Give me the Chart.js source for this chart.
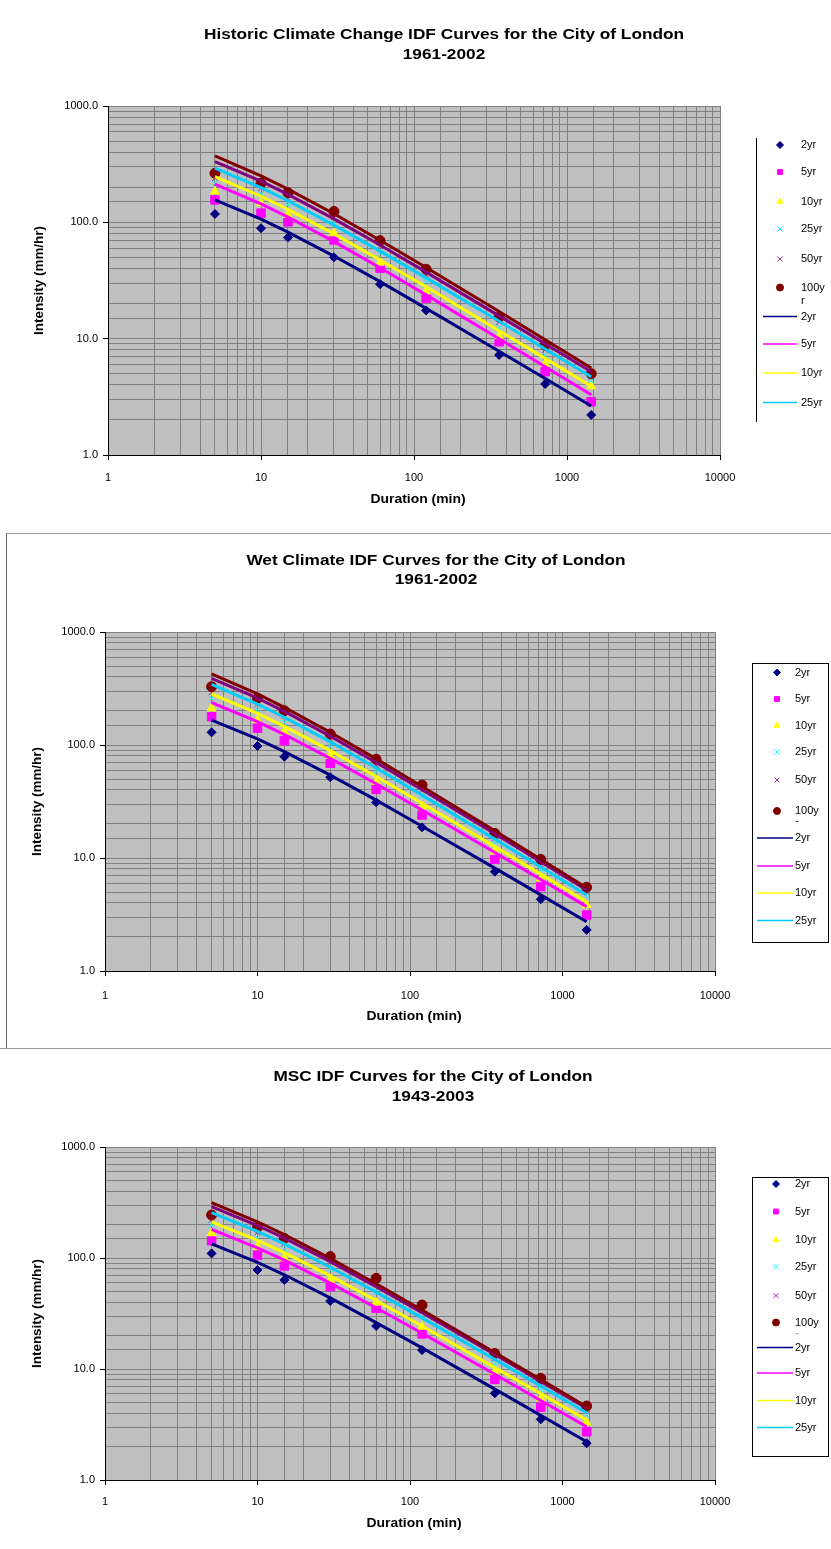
<!DOCTYPE html>
<html>
<head>
<meta charset="utf-8">
<title>IDF Curves - City of London</title>
<script src="https://cdn.jsdelivr.net/npm/chart.js@4/dist/chart.umd.min.js"></script>
<style>
  body { margin: 0; background: #fff; width: 831px; height: 1549px; position: relative; overflow: hidden; }
  .panel { position: absolute; left: 0; width: 831px; }
  .frame-wet { position: absolute; left: 6px; top: 533px; width: 830px; height: 515px; border-left: 1px solid #666; border-top: 1px solid #999; }
  .frame-msc { position: absolute; left: 0; top: 1048px; width: 831px; border-top: 1px solid #999; }
</style>
</head>
<body>
<div class="frame-wet"></div>
<div class="frame-msc"></div>
<div class="panel" style="top:0"><canvas id="historic" width="831" height="520"></canvas></div>
<div class="panel" style="top:533px"><canvas id="wet" width="831" height="515"></canvas></div>
<div class="panel" style="top:1048px"><canvas id="msc" width="831" height="501"></canvas></div>
<script>
'use strict';

// durations (min) and return periods
const durations = [5, 10, 15, 30, 60, 120, 360, 720, 1440];
const periods = ['2yr', '5yr', '10yr', '25yr', '50yr', '100yr'];
const decadesX = [1, 10, 100, 1000, 10000];
const decadesY = [1, 10, 100, 1000];

// Historic climate change 1961-2002: observed intensities (mm/hr), one row per return period
const historicPoints = [
  [118, 89, 74, 50, 29.4, 17.5, 7.24, 4.08, 2.21],
  [156, 120, 101, 70.6, 40.3, 22.2, 9.4, 5.2, 2.87],
  [184, 146, 116, 80.6, 45, 25.4, 10.5, 6.1, 3.9],
  [216, 175, 142, 98.1, 54.9, 31.1, 12.4, 7.2, 4.34],
  [240, 196, 161, 111, 62.3, 35.3, 13.9, 8.0, 4.67],
  [264, 217, 180, 124, 69.6, 39.5, 15.3, 8.8, 5.0]
];
// fitted IDF curves
const historicFits = [
  [156, 106.5, 82.5, 51.3, 30.9, 18.2, 7.8, 4.54, 2.64],
  [213, 144.3, 111.2, 68.3, 40.7, 23.8, 9.99, 5.74, 3.3],
  [247, 167.6, 129.3, 79.6, 47.5, 27.9, 11.7, 6.77, 3.9],
  [292, 198.5, 153.3, 94.7, 56.6, 33.3, 14.1, 8.14, 4.7],
  [333, 225.7, 173.9, 107.1, 63.8, 37.3, 15.7, 9.04, 5.2],
  [372, 251.2, 193.2, 118.4, 70.2, 40.9, 17.1, 9.79, 5.6]
];

// Wet climate 1961-2002
const wetPoints = [
  [129.5, 98, 78.8, 51.8, 31.1, 18.7, 7.57, 4.31, 2.31],
  [178, 141, 109, 68.9, 40.5, 24.0, 9.73, 5.57, 3.13],
  [211, 166, 131, 80, 47.3, 28.5, 11.4, 6.6, 3.84],
  [258, 204, 159, 98.1, 58.3, 34.9, 13.5, 7.86, 4.51],
  [293, 231, 180, 112, 66.5, 39.6, 15.0, 8.8, 5.01],
  [328, 259, 201, 125, 74.7, 44.3, 16.5, 9.73, 5.5]
];
const wetFits = [
  [166, 113.1, 87.4, 54.1, 32.5, 19.1, 8.13, 4.72, 2.73],
  [237, 160.7, 123.8, 76.2, 45.4, 26.6, 11.2, 6.45, 3.71],
  [283, 190.5, 146.1, 89.2, 52.6, 30.5, 12.6, 7.2, 4.1],
  [344, 230.3, 176.1, 106.7, 62.6, 36.0, 14.7, 8.34, 4.71],
  [389, 259.9, 198.4, 119.9, 70.1, 40.2, 16.4, 9.25, 5.21],
  [425, 282.9, 215.4, 129.6, 75.3, 43.0, 17.4, 9.74, 5.46]
];

// MSC 1943-2003
const mscPoints = [
  [110, 78, 63.4, 41, 24.4, 14.8, 6.04, 3.52, 2.14],
  [143, 106, 84.7, 55.2, 35.2, 20.7, 8.07, 4.52, 2.72],
  [167, 126, 99.4, 63.4, 39.6, 24.0, 9.46, 5.45, 3.28],
  [198, 151, 120, 79.4, 50.1, 29.5, 11.2, 6.57, 3.83],
  [221, 170, 135, 91.2, 57.9, 33.6, 12.5, 7.41, 4.23],
  [244, 189, 150, 103, 65.6, 37.7, 13.8, 8.24, 4.64]
];
const mscFits = [
  [134, 91.3, 70.6, 43.7, 26.2, 15.5, 6.58, 3.82, 2.21],
  [181, 123.5, 95.5, 59.3, 35.6, 21.0, 8.96, 5.2, 3.02],
  [212, 144.3, 111.6, 69.0, 41.4, 24.4, 10.3, 6.0, 3.47],
  [256, 173.7, 134.0, 82.5, 49.2, 28.9, 12.2, 7.02, 4.04],
  [290, 196.2, 151.0, 92.7, 55.1, 32.2, 13.5, 7.73, 4.43],
  [315, 212.1, 162.7, 99.3, 58.6, 34.0, 14.1, 8.02, 4.57]
];

// series styling
const markerStyles = ['rectRot', 'rect', 'triangle', 'crossRot', 'crossRot', 'circle'];
const markerSizes = [4.5, 6, 5, 4, 4, 5];
const markerColors = ['#000080', '#FF00FF', '#FFFF00', '#00FFFF', '#993399', '#800000'];
const lineColors = ['#000080', '#FF00FF', '#FFFF00', '#00CCFF', '#800080', '#800000'];

const FONT = '"Liberation Sans", Arial, sans-serif';

function buildDatasets(points, fits) {
  let sets = [];
  for (let i = 0; i < periods.length; i++) {
    sets.push({
      label: periods[i],
      data: durations.map((d, k) => ({ x: d, y: points[i][k] })),
      showLine: false,
      pointStyle: markerStyles[i],
      pointRadius: markerSizes[i],
      pointBackgroundColor: markerColors[i],
      pointBorderColor: markerColors[i],
      pointBorderWidth: 1,
      order: 30 - i
    });
  }
  for (let i = 0; i < periods.length; i++) {
    sets.push({
      label: periods[i],
      data: durations.map((d, k) => ({ x: d, y: fits[i][k] })),
      showLine: true,
      borderColor: lineColors[i],
      backgroundColor: lineColors[i],
      borderWidth: 3,
      pointRadius: 0,
      order: 10 - i
    });
  }
  return sets;
}

// grey plot area
const plotBackground = {
  id: 'plotBackground',
  beforeDraw(chart) {
    const { ctx, chartArea: a } = chart;
    ctx.save();
    ctx.fillStyle = '#C0C0C0';
    ctx.fillRect(a.left, a.top, a.right - a.left, a.bottom - a.top);
    ctx.restore();
  }
};

// text drawn a little wider than the font's natural width
function wideText(ctx, text, x, y, sx, angle) {
  ctx.save();
  ctx.translate(x, y);
  if (angle) ctx.rotate(angle);
  ctx.scale(sx, 1);
  ctx.fillText(text, 0, 0);
  ctx.restore();
}

// two-line heading and the axis titles
const captions = {
  id: 'captions',
  afterDraw(chart, args, opts) {
    const { ctx, chartArea: a } = chart;
    ctx.save();
    ctx.fillStyle = '#000';
    ctx.textAlign = 'center';
    ctx.textBaseline = 'middle';

    ctx.font = 'bold 15px ' + FONT;
    opts.lines.forEach((t, i) => wideText(ctx, t, opts.x, opts.rows[i], 1.15, 0));

    ctx.font = 'bold 12px ' + FONT;
    wideText(ctx, 'Duration (min)', (a.left + a.right) / 2 + 4, opts.xTitleY, 1.16, 0);
    wideText(ctx, 'Intensity (mm/hr)', opts.yTitleX, (a.top + a.bottom) / 2, 1.12, -Math.PI / 2);
    ctx.restore();
  }
};

// legend on the right, first ten series only (the box is cut off)
const sideLegend = {
  id: 'sideLegend',
  afterDraw(chart, args, opts) {
    const ctx = chart.ctx;
    ctx.save();
    ctx.strokeStyle = '#000';
    ctx.lineWidth = 1;
    if (opts.leftOnly) {
      ctx.beginPath();
      ctx.moveTo(opts.left + 0.5, opts.top);
      ctx.lineTo(opts.left + 0.5, opts.bottom);
      ctx.stroke();
    } else {
      ctx.strokeRect(opts.left + 0.5, opts.top + 0.5, opts.right - opts.left, opts.bottom - opts.top);
    }
    ctx.font = '11px ' + FONT;
    ctx.textBaseline = 'middle';
    chart.data.datasets.slice(0, 10).forEach((ds, i) => {
      const y = opts.rows[i];
      if (ds.showLine) {
        ctx.strokeStyle = ds.borderColor;
        ctx.lineWidth = 1.5;
        ctx.beginPath();
        ctx.moveTo(opts.lineFrom, y);
        ctx.lineTo(opts.lineTo, y);
        ctx.stroke();
      } else {
        ctx.fillStyle = ds.pointBackgroundColor;
        ctx.strokeStyle = ds.pointBorderColor;
        ctx.lineWidth = 1;
        Chart.helpers.drawPoint(ctx, { pointStyle: ds.pointStyle, radius: 3.5, rotation: 0, borderWidth: 1 }, opts.markerX, y);
      }
      ctx.fillStyle = '#000';
      if (ds.label === '100yr') {
        ctx.fillText('100y', opts.textX, y);
        ctx.save();
        ctx.beginPath();
        ctx.rect(opts.textX - 2, y + 7, 20, opts.wrapShow);
        ctx.clip();
        ctx.fillText('r', opts.textX, y + 13);
        ctx.restore();
      } else {
        ctx.fillText(ds.label, opts.textX, y);
      }
    });
    ctx.restore();
  }
};

function isDecade(v, list) {
  return list.indexOf(v) !== -1;
}

function makeChart(id, points, fits, p) {
  const ctx = document.getElementById(id).getContext('2d');
  return new Chart(ctx, {
    type: 'scatter',
    data: { datasets: buildDatasets(points, fits) },
    plugins: [plotBackground, captions, sideLegend],
    options: {
      responsive: false,
      animation: false,
      layout: { padding: { left: 0, right: 831 - p.right, top: p.top, bottom: 0 } },
      plugins: {
        legend: { display: false },
        tooltip: { enabled: false },
        captions: { lines: p.title, x: p.titleX, rows: p.titleRows, xTitleY: p.xTitleY, yTitleX: p.yTitleX },
        sideLegend: p.legend
      },
      scales: {
        x: {
          type: 'logarithmic',
          min: 1,
          max: 10000,
          afterFit: (s) => { s.height = p.height - p.bottom; },
          border: { color: '#000', width: 1 },
          grid: {
            color: '#808080',
            lineWidth: 1,
            tickLength: 5,
            tickColor: (c) => isDecade(c.tick.value, decadesX) ? '#000' : 'rgba(0,0,0,0)'
          },
          ticks: {
            autoSkip: false,
            maxRotation: 0,
            padding: p.xTickPad,
            color: '#000',
            font: { family: FONT, size: 11 },
            callback: (v) => isDecade(v, decadesX) ? String(v) : ''
          }
        },
        y: {
          type: 'logarithmic',
          min: 1,
          max: 1000,
          afterFit: (s) => { s.width = p.left; },
          border: { color: '#000', width: 1 },
          grid: {
            color: '#808080',
            lineWidth: 1,
            tickLength: 5,
            tickColor: (c) => isDecade(c.tick.value, decadesY) ? '#000' : 'rgba(0,0,0,0)'
          },
          ticks: {
            autoSkip: false,
            padding: 5,
            color: '#000',
            font: { family: FONT, size: 11 },
            callback: (v) => isDecade(v, decadesY) ? v.toFixed(1) : ''
          }
        }
      }
    }
  });
}

makeChart('historic', historicPoints, historicFits, {
  left: 108, right: 720, top: 106, bottom: 455, height: 520,
  xTickPad: 11, xTitleY: 500, yTitleX: 40,
  title: ['Historic Climate Change IDF Curves for the City of London', '1961-2002'],
  titleX: 444, titleRows: [35, 55],
  legend: {
    leftOnly: true, left: 756, top: 138, bottom: 422,
    rows: [145, 172, 201.5, 229, 259, 287.5, 316.5, 344, 373, 402.5],
    markerX: 780, textX: 801, lineFrom: 763, lineTo: 797, wrapShow: 14
  }
});

makeChart('wet', wetPoints, wetFits, {
  left: 105, right: 715, top: 99, bottom: 438, height: 515,
  xTickPad: 13, xTitleY: 484, yTitleX: 38,
  title: ['Wet Climate IDF Curves for the City of London', '1961-2002'],
  titleX: 436, titleRows: [28, 47],
  legend: {
    leftOnly: false, left: 752, top: 130, right: 828, bottom: 409,
    rows: [139.5, 166, 192.5, 219, 247, 278, 305, 333, 360, 387.5],
    markerX: 777, textX: 795, lineFrom: 757, lineTo: 793, wrapShow: 4
  }
});

makeChart('msc', mscPoints, mscFits, {
  left: 105, right: 715, top: 99, bottom: 432, height: 501,
  xTickPad: 10, xTitleY: 476, yTitleX: 38,
  title: ['MSC IDF Curves for the City of London', '1943-2003'],
  titleX: 433, titleRows: [29, 49],
  legend: {
    leftOnly: false, left: 752, top: 129, right: 828, bottom: 408,
    rows: [136, 163.5, 192, 218.5, 247.5, 274.5, 299.5, 325, 352.5, 379.5],
    markerX: 776, textX: 795, lineFrom: 757, lineTo: 793, wrapShow: 4
  }
});
</script>
</body>
</html>
